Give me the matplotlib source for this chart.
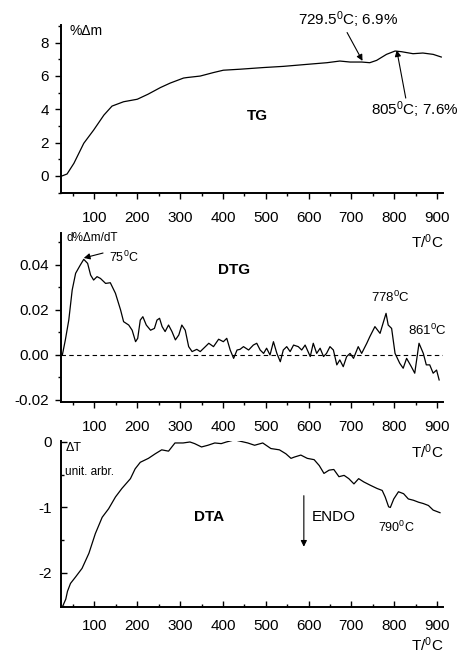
import numpy as np
import matplotlib
matplotlib.use("Agg")
import matplotlib.pyplot as plt
from matplotlib.ticker import MultipleLocator

plt.rcParams['font.family'] = ['Liberation Sans', 'DejaVu Sans']
plt.rcParams['mathtext.fontset'] = 'custom'
plt.rcParams['mathtext.rm'] = 'Liberation Sans'
plt.rcParams['mathtext.it'] = 'Liberation Sans'

# TG curve (%dm vs T)
tg_T = [24, 36, 52, 75, 98, 122, 141, 168, 200, 225, 254, 277, 308, 316, 347, 378,
        401, 440, 495, 541, 596, 643, 673, 697, 724, 743, 759, 782, 802, 817, 844,
        867, 891, 910]
tg_m = [0.0, 0.12, 0.76, 1.96, 2.75, 3.65, 4.19, 4.45, 4.6, 4.9, 5.3, 5.57, 5.87,
        5.9, 5.99, 6.2, 6.34, 6.4, 6.5, 6.57, 6.69, 6.79, 6.89, 6.83, 6.83, 6.79,
        6.93, 7.29, 7.49, 7.45, 7.33, 7.37, 7.29, 7.13]

# DTG curve
dtg_T = [25, 32, 40, 48, 56, 67, 75, 84, 91, 98, 106, 114, 126, 137, 149, 161, 168,
         180, 188, 196, 201, 207, 213, 221, 231, 240, 246, 252, 258, 265, 273, 281,
         289, 297, 304, 312, 320, 328, 339, 347, 359, 367, 378, 390, 401, 409, 417,
         425, 433, 440, 448, 460, 471, 479, 487, 495, 502, 510, 518, 526, 534, 541,
         549, 557, 565, 576, 584, 592, 604, 611, 619, 627, 635, 642, 650, 658, 666,
         673, 681, 689, 697, 705, 716, 724, 736, 743, 755, 767, 774, 781, 786, 794,
         802, 813, 821, 829, 840, 848, 858, 868, 875, 883, 891, 899, 905]
dtg_v = [0.0, 0.0067, 0.0155, 0.0289, 0.0363, 0.040, 0.0425, 0.0407, 0.0355, 0.0333,
         0.0348, 0.034, 0.0318, 0.0321, 0.0274, 0.020, 0.0148, 0.0133, 0.011, 0.0059,
         0.0074, 0.0155, 0.017, 0.0133, 0.011, 0.0118, 0.0155, 0.0163, 0.0126, 0.0104,
         0.0133, 0.0104, 0.0067, 0.0089, 0.0133, 0.011, 0.0037, 0.0015, 0.0025, 0.0015,
         0.0037, 0.0052, 0.0037, 0.007, 0.0059, 0.0074, 0.0022, -0.0015, 0.0022, 0.0025,
         0.0037, 0.0022, 0.0044, 0.0052, 0.0022, 0.0007, 0.003, 0.0, 0.0059, 0.0007,
         -0.003, 0.0022, 0.0037, 0.0015, 0.0044, 0.0037, 0.0022, 0.0044, -0.0007, 0.0052,
         0.0007, 0.003, -0.0007, 0.0007, 0.0037, 0.0022, -0.0044, -0.0022, -0.0052,
         -0.0007, 0.0007, -0.0015, 0.0037, 0.0007, 0.0052, 0.0081, 0.0126, 0.0096,
         0.0141, 0.0185, 0.0133, 0.0118, 0.0007, -0.0037, -0.0059, -0.0015, -0.0052,
         -0.0081, 0.0052, 0.0007, -0.0044, -0.0044, -0.0081, -0.0067, -0.0111]

# DTA curve (gap near 425 C as in the original)
dta_T = [25, 33, 37, 44, 56, 71, 87, 102, 118, 133, 149, 164, 184, 195, 207, 226, 242,
         257, 273, 288, 307, 323, 334, 350, 365, 381, 396, 408, 420, 428, 435, 458,
         474, 493, 512, 532, 547, 559, 567, 582, 597, 613, 625, 636, 648, 659, 671,
         683, 694, 706, 717, 729, 744, 760, 772, 779, 787, 791, 799, 810, 822, 833,
         845, 857, 868, 880, 891, 907]
dta_v = [-2.52, -2.40, -2.28, -2.16, -2.06, -1.93, -1.70, -1.40, -1.15, -1.02, -0.84, -0.71,
         -0.56, -0.41, -0.31, -0.25, -0.18, -0.12, -0.14, -0.015, -0.015, 0.0, -0.025,
         -0.076, -0.05, -0.015, -0.025, 0.0, 0.02, np.nan, 0.02, -0.015, -0.05, -0.015,
         -0.10, -0.12, -0.18, -0.25, -0.23, -0.20, -0.25, -0.27, -0.36, -0.48, -0.43,
         -0.42, -0.53, -0.51, -0.56, -0.64, -0.56, -0.61, -0.66, -0.71, -0.74, -0.84,
         -0.99, -1.00, -0.87, -0.76, -0.79, -0.87, -0.89, -0.92, -0.94, -0.97, -1.04,
         -1.08]

W, H = 462, 653
fig = plt.figure(figsize=(W / 100, H / 100), dpi=100)


def make_ax(left, top, right, bottom):
    a = fig.add_axes([left / W, 1 - bottom / H, (right - left) / W, (bottom - top) / H])
    a.patch.set_visible(False)
    return a


ax1 = make_ax(61.5, 25, 443, 193)
ax2 = make_ax(61.5, 233, 443, 402)
ax3 = make_ax(61.5, 441, 443, 607)

arrow = dict(arrowstyle='-|>', color='k', lw=0.8, mutation_scale=9, shrinkA=0, shrinkB=0)
sup = r'$^{0}$'

for ax in (ax1, ax2, ax3):
    ax.spines['top'].set_visible(False)
    ax.spines['right'].set_visible(False)
    ax.spines['left'].set_linewidth(1.4)
    ax.spines['bottom'].set_linewidth(1.4)
    ax.set_xlim(23, 914)
    ax.xaxis.set_major_locator(MultipleLocator(100))
    ax.xaxis.set_minor_locator(MultipleLocator(50))
    ax.tick_params(which='both', labelsize=11, width=1.0)
    ax.tick_params(which='major', length=4)
    ax.tick_params(which='minor', length=2.5)
    ax.tick_params(axis='x', pad=9)
    ax.tick_params(axis='y', pad=5)

# TG
ax1.plot(tg_T, tg_m, color='k', lw=0.9)
ax1.set_ylim(-1.02, 9.05)
ax1.yaxis.set_major_locator(MultipleLocator(2))
ax1.yaxis.set_minor_locator(MultipleLocator(1))
ax1.text(0.021, 0.964, '%Δm', transform=ax1.transAxes, fontsize=10, va='center', ha='left')
ax1.text(0.513, 0.456, 'TG', transform=ax1.transAxes, fontsize=11, fontweight='bold',
         ha='center', va='center')
ax1.text(0.958, -0.29, 'T/' + sup + 'C', transform=ax1.transAxes, fontsize=11,
         ha='center', va='center')
ax1.annotate('', xy=(726, 6.9), xytext=(690, 8.6), arrowprops=arrow, annotation_clip=False)
ax1.text(692, 9.34, '729.5' + sup + 'C; 6.9%', fontsize=11, ha='center', va='center')
ax1.annotate('', xy=(806, 7.54), xytext=(827, 4.67), arrowprops=arrow, annotation_clip=False)
ax1.text(848, 3.95, '805' + sup + 'C; 7.6%', fontsize=11, ha='center', va='center')

# DTG
ax2.plot(dtg_T, dtg_v, color='k', lw=0.9)
ax2.axhline(0, color='k', lw=0.8, ls=(0, (4, 3)))
ax2.set_ylim(-0.0209, 0.0542)
ax2.yaxis.set_major_locator(MultipleLocator(0.02))
ax2.yaxis.set_minor_locator(MultipleLocator(0.01))
ax2.set_yticks([-0.02, 0.0, 0.02, 0.04])
ax2.set_yticklabels(['-0.02', '0.00', '0.02', '0.04'])
ax2.text(0.012, 0.97, 'd%Δm/dT', transform=ax2.transAxes, fontsize=8.5, va='center', ha='left')
ax2.text(0.453, 0.781, 'DTG', transform=ax2.transAxes, fontsize=11, fontweight='bold',
         ha='center', va='center')
ax2.text(0.958, -0.296, 'T/' + sup + 'C', transform=ax2.transAxes, fontsize=11,
         ha='center', va='center')
ax2.annotate('', xy=(75, 0.0431), xytext=(120, 0.0453), arrowprops=arrow)
ax2.text(133, 0.0433, '75' + sup + 'C', fontsize=9, ha='left', va='center')
ax2.text(790, 0.0258, '778' + sup + 'C', fontsize=9.5, ha='center', va='center')
ax2.text(878, 0.0111, '861' + sup + 'C', fontsize=9.5, ha='center', va='center')

# DTA
ax3.plot(dta_T, dta_v, color='k', lw=0.9)
ax3.set_ylim(-2.52, 0.015)
ax3.yaxis.set_major_locator(MultipleLocator(1))
ax3.yaxis.set_minor_locator(MultipleLocator(0.5))
ax3.tick_params(which='both', direction='in')
ax3.tick_params(axis='y', pad=7)
ax3.set_yticks([-2, -1, 0])
ax3.set_yticklabels(['-2', '-1', '0'])
ax3.text(0.01, 0.958, 'ΔT', transform=ax3.transAxes, fontsize=9, va='center', ha='left')
ax3.text(0.01, 0.813, 'unit. arbr.', transform=ax3.transAxes, fontsize=8.5,
         va='center', ha='left')
ax3.text(0.386, 0.542, 'DTA', transform=ax3.transAxes, fontsize=11, fontweight='bold',
         ha='center', va='center')
ax3.text(0.656, 0.542, 'ENDO', transform=ax3.transAxes, fontsize=11, ha='left', va='center')
ax3.annotate('', xy=(589, -1.60), xytext=(589, -0.82), arrowprops=arrow)
ax3.text(805, -1.30, '790' + sup + 'C', fontsize=9, ha='center', va='center')
ax3.text(0.958, -0.225, 'T/' + sup + 'C', transform=ax3.transAxes, fontsize=11,
         ha='center', va='center')

fig.savefig('out.png', dpi=100)
